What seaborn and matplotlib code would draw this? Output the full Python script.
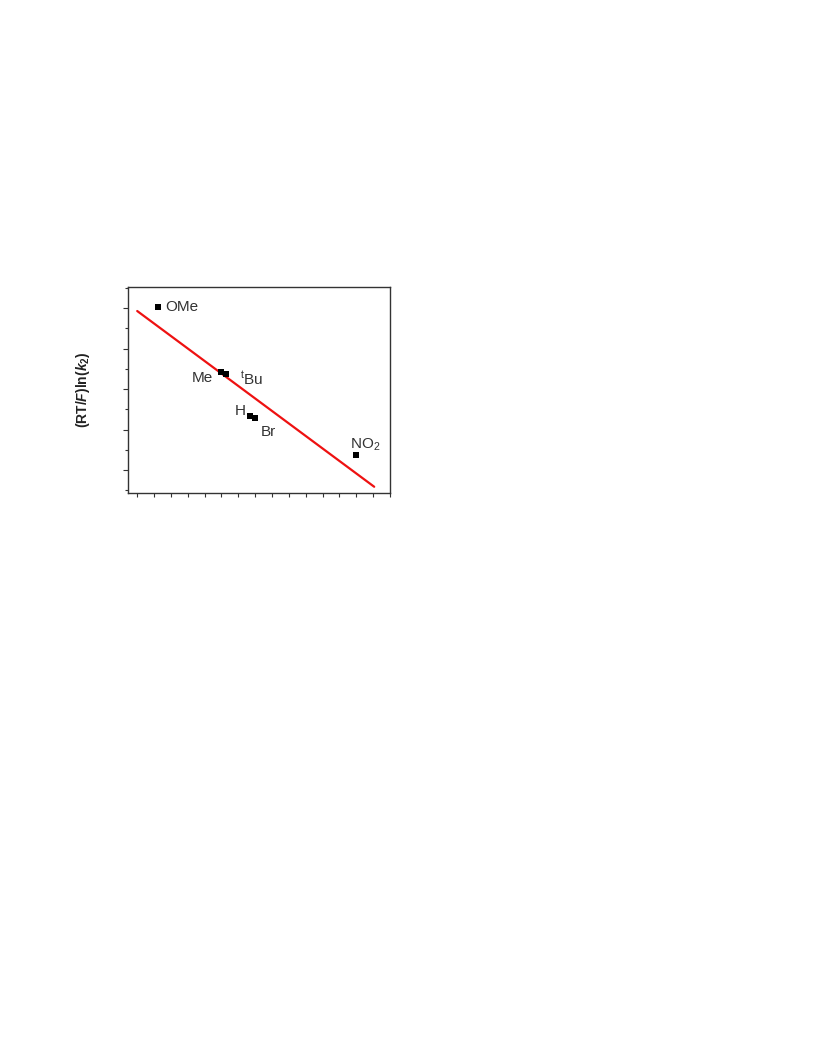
import numpy as np
import pandas as pd
import matplotlib
matplotlib.use("Agg")
import matplotlib.pyplot as plt
from matplotlib.ticker import MultipleLocator, NullFormatter
import seaborn as sns

# === Data (arbitrary units) ===
substituents = ["OMe", "Me", "tBu", "H", "Br", "NO2"]
x_vals = [0.62, 2.49, 2.64, 3.35, 3.50, 6.50]
y_vals = [4.02, 2.42, 2.37, 1.33, 1.28, 0.37]
fit_range = [0.0, 7.03]

df = pd.DataFrame({"sub": substituents, "x": x_vals, "y": y_vals})

# linear fit, drawn over the range shown in the original
slope, intercept = np.polyfit(df["x"], df["y"], 1)
fit_df = pd.DataFrame({"x": fit_range})
fit_df["y"] = slope * fit_df["x"] + intercept

# === Style ===
sns.set_style("ticks")
plt.rcParams["font.family"] = ["Liberation Sans", "DejaVu Sans"]
plt.rcParams["mathtext.fontset"] = "custom"
plt.rcParams["mathtext.rm"] = "Liberation Sans"
plt.rcParams["mathtext.it"] = "Liberation Sans:italic"
plt.rcParams["mathtext.bf"] = "Liberation Sans:bold"
plt.rcParams["mathtext.bfit"] = "Liberation Sans:bold:italic"

fig = plt.figure(figsize=(8.16, 10.56), dpi=100)
ax = fig.add_axes([0.157, 0.533, 0.321, 0.195])

sns.lineplot(data=fit_df, x="x", y="y", ax=ax, color="#ee1111", linewidth=1.6)
sns.scatterplot(data=df, x="x", y="y", ax=ax, marker="s", color="black",
                s=24, edgecolor="black", linewidth=0, zorder=3)

# labels next to points
txt = dict(fontsize=11, color="#333333")
ax.text(0.82, 4.02, "OMe", ha="left", va="center", **txt)
ax.text(2.26, 2.27, "Me", ha="right", va="center", **txt)
ax.text(3.06, 2.27, r"$^{\mathrm{t}}$Bu", ha="left", va="center", **txt)
ax.text(3.22, 1.45, "H", ha="right", va="center", **txt)
ax.text(3.67, 0.94, "Br", ha="left", va="center", **txt)
ax.text(6.3, 0.62, r"NO$_2$", ha="left", va="center", **txt)

ax.set_xlim(-0.27, 7.5)
ax.set_ylim(-0.57, 4.52)
ax.xaxis.set_major_locator(MultipleLocator(1))
ax.xaxis.set_minor_locator(MultipleLocator(0.5))
ax.yaxis.set_major_locator(MultipleLocator(1))
ax.yaxis.set_minor_locator(MultipleLocator(0.5))
ax.xaxis.set_major_formatter(NullFormatter())
ax.yaxis.set_major_formatter(NullFormatter())
ax.tick_params(which="major", direction="out", length=3.5, width=0.8, color="#333333")
ax.tick_params(which="minor", direction="out", length=2.5, width=0.8, color="#333333")
ax.tick_params(axis="x", which="both", length=3, width=0.8)

for side in ["left", "right", "top", "bottom"]:
    ax.spines[side].set_visible(True)
    ax.spines[side].set_color("#333333")
    ax.spines[side].set_linewidth(1.0)

ax.set_xlabel("")
ax.set_ylabel(r"$\mathbf{(RT/}\mathbfit{F}\mathbf{)ln(}\mathbfit{k}_{\mathbf{2}}\mathbf{)}$",
              fontsize=10, color="#222222", labelpad=19)

fig.savefig("out.png", dpi=100)
plt.close()
